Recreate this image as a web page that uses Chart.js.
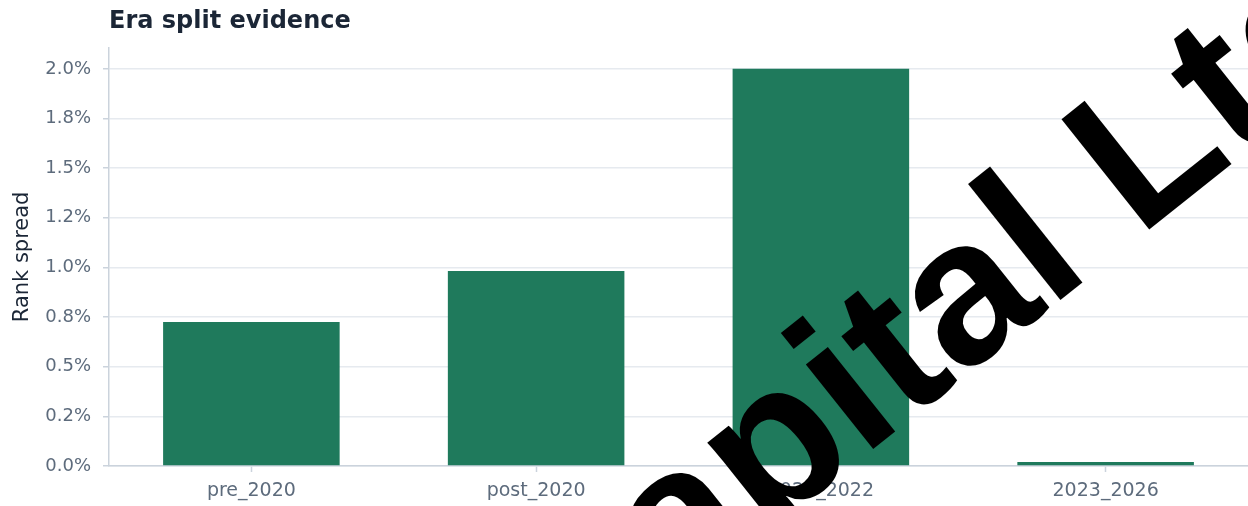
<!DOCTYPE html>
<html>
<head>
<meta charset="utf-8">
<script src="https://cdn.jsdelivr.net/npm/chart.js@4.4.1/dist/chart.umd.min.js"></script>
<style>
  html, body { margin: 0; padding: 0; background: #fff; overflow: hidden; }
  #wrap { position: relative; width: 1248px; height: 506px; }
</style>
</head>
<body>
<div id="wrap"><canvas id="chart"></canvas></div>
<script>
// dados do gráfico
const eras = ['pre_2020', 'post_2020', '2020_2022', '2023_2026'];
const rankSpread = [0.725, 0.982, 2.0, 0.02]; // em %
const tickValues = [0, 0.25, 0.5, 0.75, 1.0, 1.25, 1.5, 1.75, 2.0];
const tickLabels = ['0.0%', '0.2%', '0.5%', '0.8%', '1.0%', '1.2%', '1.5%', '1.8%', '2.0%'];
const watermark = 'Capital Ltd';

const FONT = "'DejaVu Sans', sans-serif";
const tickColor = '#5d6b7c';
const axisColor = '#cbd3dc';

// marca d'água por cima do gráfico
const watermarkPlugin = {
  id: 'watermark',
  afterDraw(chart) {
    const ctx = chart.ctx;
    ctx.save();
    ctx.translate(559, 699);
    ctx.rotate(-38.5 * Math.PI / 180);
    ctx.font = "bold 205px 'Liberation Sans', Arial, sans-serif";
    ctx.fillStyle = '#000';
    ctx.textBaseline = 'alphabetic';
    ctx.fillText(watermark, 0, 0);
    ctx.restore();
  }
};

const ctx = document.getElementById('chart').getContext('2d');
const grafico = new Chart(ctx, {
  type: 'bar',
  data: {
    labels: eras,
    datasets: [{
      label: 'Rank spread',
      data: rankSpread,
      backgroundColor: '#1f7a5c',
      borderWidth: 0,
      barPercentage: 0.62,
      categoryPercentage: 1.0
    }]
  },
  options: {
    responsive: true,
    maintainAspectRatio: false,
    animation: false,
    layout: { padding: { left: 0, right: 0, top: 0, bottom: 0 } },
    plugins: {
      legend: { display: false },
      tooltip: { enabled: false },
      title: {
        display: true,
        text: 'Era split evidence',
        align: 'start',
        fullSize: false,
        color: '#1b2636',
        font: { family: FONT, size: 24, weight: 'bold', lineHeight: 1.2 },
        padding: { top: 7, bottom: 12 }
      }
    },
    scales: {
      x: {
        offset: true,
        grid: {
          display: true,
          offset: false,
          drawOnChartArea: false,
          drawTicks: true,
          tickLength: 6,
          tickColor: axisColor,
          tickWidth: 1.5
        },
        border: { display: true, color: axisColor, width: 1.5 },
        ticks: {
          color: tickColor,
          padding: 8,
          font: { family: FONT, size: 19 }
        },
        afterFit(scale) { scale.height = 40; }
      },
      y: {
        min: 0,
        max: 2.106,
        grid: {
          color: '#e6eaef',
          lineWidth: 1.5,
          tickLength: 6,
          tickColor: axisColor,
          tickWidth: 1.5
        },
        border: { display: true, color: axisColor, width: 1.5 },
        afterBuildTicks(scale) {
          scale.ticks = tickValues.map(v => ({ value: v }));
        },
        ticks: {
          color: tickColor,
          padding: 12,
          font: { family: FONT, size: 18 },
          callback: (value) => {
            const i = tickValues.indexOf(value);
            return i >= 0 ? tickLabels[i] : '';
          }
        },
        title: {
          display: true,
          text: 'Rank spread',
          color: '#1b2636',
          font: { family: FONT, size: 21, lineHeight: 1.2 },
          padding: { top: 10, bottom: 13 }
        },
        afterFit(scale) { scale.width = 109; }
      }
    }
  },
  plugins: [watermarkPlugin]
});
</script>
</body>
</html>
